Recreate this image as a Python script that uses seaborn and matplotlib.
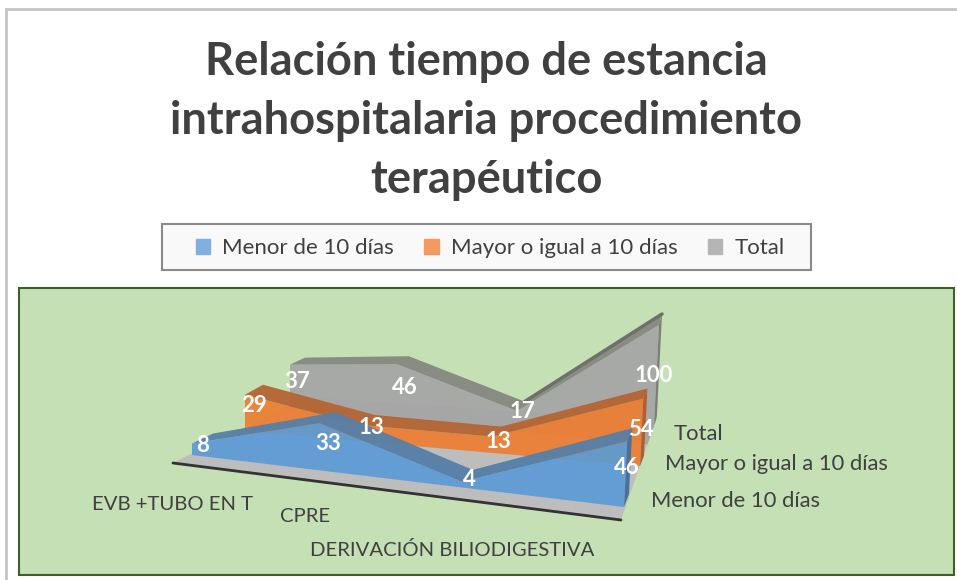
import numpy as np
import pandas as pd
import matplotlib
matplotlib.use('Agg')
import matplotlib.pyplot as plt
from matplotlib.patches import Rectangle, Patch, Polygon
import seaborn as sns

# values
categories = ['EVB +TUBO EN T', 'CPRE', 'DERIVACIÓN BILIODIGESTIVA', 'Total']
menor = [8, 33, 4, 46]
mayor = [29, 13, 13, 54]
total = [37, 46, 17, 100]
series_names = ['Menor de 10 días', 'Mayor o igual a 10 días', 'Total']
title = 'Relación tiempo de estancia\nintrahospitalaria procedimiento\nterapéutico'

sns.set_theme(style='white')
plt.rcParams['font.family'] = ['Lato', 'DejaVu Sans']

text_color = '#404040'
face_colors = ['#5B9BD5', '#ED7D31', '#A5A5A5']
band_colors = ['#557FA8', '#B56433', '#858880']
cap_colors = ['#4A7199', '#B0602F', '#7C7F79']
legend_colors = ['#7FB0DE', '#F29A5F', '#B5B5B5']

# 3D look: depth planes go floor front, front/back of each series, floor back
left_anchor = np.array([[173, 463], [192, 455], [213, 445], [245, 431], [263, 421], [290, 409], [305, 402], [305, 397]])
right_anchor = np.array([[621, 520], [624, 507], [629, 494], [640, 466], [644, 456], [653, 445], [656, 434], [656, 420]])
height_scale = [1.43, 1.25, 1.2]
shrink = 0.83


def project(c, depth, value, scale):
    u = np.asarray(c) / 3
    t = shrink * u / (1 + (shrink - 1) * u)
    base = left_anchor[depth] + np.outer(t, right_anchor[depth] - left_anchor[depth])
    h = scale * np.asarray(value, dtype=float)
    return base[:, 0] + 0.05 * h * t, base[:, 1] - h


fig = plt.figure(figsize=(9.57, 5.8), dpi=100)
ax = fig.add_axes([0, 0, 1, 1])
ax.set_xlim(0, 957)
ax.set_ylim(580, 0)
ax.axis('off')

# card and green panel
ax.add_patch(Rectangle((6, 9), 960, 580, fc='white', ec='#C4C4C4', lw=2))
ax.add_patch(Rectangle((19, 288), 935, 287, fc='#C5E0B4', ec='#3F5F2A', lw=1.5))

# floor
xs = np.arange(4)
x0, y0 = project(xs, 0, np.zeros(4), 1)
x1, y1 = project(xs, 7, np.zeros(4), 1)
ax.fill(np.r_[x0, x1[::-1]], np.r_[y0, y1[::-1]], color='#BDBDBD', lw=0, zorder=2)

# the Total ribbon must stop at the right edge of the floor
floor_clip = Polygon([(621, 520), (700, 294), (0, 294), (0, 520)], transform=ax.transData)

# series, back to front
all_values = [menor, mayor, total]
rows = []
for i in [2, 1, 0]:
    vals = all_values[i]
    front = 2 * i + 1
    back = front + 1
    s = height_scale[i]
    z = 3 + (2 - i)
    bx, by = project(xs, front, np.zeros(4), 1)
    fx, fy = project(xs, front, vals, s)
    tx, ty = project(xs, back, vals, s)
    ebx, eby = project(xs, back, np.zeros(4), 1)
    face = ax.fill(np.r_[fx, bx[::-1]], np.r_[fy, by[::-1]], color=face_colors[i], alpha=0.92, lw=0, zorder=z)[0]
    ax.fill(np.r_[fx, tx[::-1]], np.r_[fy, ty[::-1]], color=band_colors[i], alpha=0.95, lw=0, zorder=z + 0.1)
    cap = ax.fill([fx[3], tx[3], ebx[3], bx[3]], [fy[3], ty[3], eby[3], by[3]], color=cap_colors[i], lw=0, zorder=z + 0.1)[0]
    if i == 2:
        face.set_clip_path(floor_clip)
        cap.set_clip_path(floor_clip)
    for k in range(4):
        rows.append({'serie': series_names[i], 'px': tx[k], 'py': ty[k], 'order': k})

# back edge of the Total ribbon shows as a dark line towards the last point
edge = pd.DataFrame(rows)
edge = edge[(edge['serie'] == 'Total') & (edge['order'] >= 2)]
sns.lineplot(data=edge, x='px', y='py', sort=False, color='#6E716B', lw=2.5, ax=ax, legend=False, zorder=3.2)

# black front line of the floor
ax.plot(x0, y0, color='#333333', lw=2, zorder=2.5)

# data labels
label_pos = [[(203, 445), (328, 444), (469, 479), (627, 468)],
             [(254, 406), (371, 427), (498, 441), (641, 429)],
             [(297, 381), (405, 387), (522, 412), (654, 376)]]
for i, vals in enumerate(all_values):
    for v, (lx, ly) in zip(vals, label_pos[i]):
        ax.text(lx, ly, str(v), color='white', fontsize=16, fontweight='bold', ha='center', va='center', zorder=10)

# axis labels
ax.text(173, 505, categories[0], color=text_color, fontsize=14.6, ha='center', va='center')
ax.text(305, 516, categories[1], color=text_color, fontsize=14.6, ha='center', va='center')
ax.text(452, 550, categories[2], color=text_color, fontsize=14.6, ha='center', va='center')
ax.text(674, 434, series_names[2], color=text_color, fontsize=15.8, ha='left', va='center')
ax.text(665, 464, series_names[1], color=text_color, fontsize=15.8, ha='left', va='center')
ax.text(651, 501, series_names[0], color=text_color, fontsize=15.8, ha='left', va='center')

# title
ax.text(486, 121, title, color=text_color, fontsize=32.6, fontweight='bold', ha='center', va='center', linespacing=1.5)

# legend
ax.add_patch(Rectangle((162, 224), 649, 46, fc='#F9F9F9', ec='#8A8A8A', lw=1.5))
handles = [Patch(color=c, label=n) for c, n in zip(legend_colors, series_names)]
ax.legend(handles=handles, loc='center', bbox_to_anchor=(490, 248), bbox_transform=ax.transData, ncol=3,
          frameon=False, fontsize=16, labelcolor=text_color, handlelength=0.65, handleheight=0.65,
          handletextpad=0.55, columnspacing=1.35, borderpad=0, borderaxespad=0)

fig.savefig('out.png', dpi=100)
